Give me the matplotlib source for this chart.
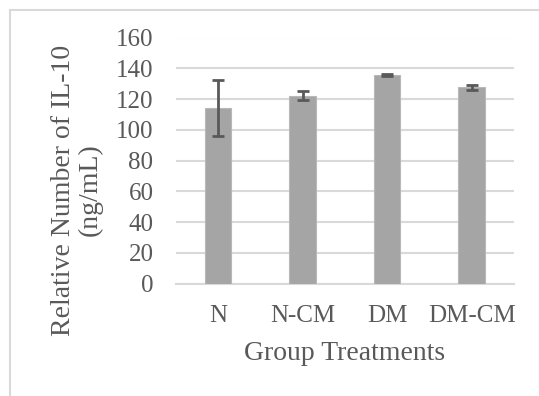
import matplotlib.pyplot as plt
from matplotlib.patches import Rectangle

# data
groups = ["N", "N-CM", "DM", "DM-CM"]
il10 = [114.0, 122.3, 135.6, 127.6]
il10_err = [18.3, 2.9, 0.5, 1.4]

text_color = "#595959"
plt.rcParams["font.family"] = ["Liberation Serif", "DejaVu Serif"]

fig = plt.figure(figsize=(5.39, 3.96), dpi=100)
fig.patch.set_facecolor("white")

# chart area border (cut off at right/bottom like the source)
fig.patches.append(Rectangle((10 / 539, -0.1), 1.2, 1.1 - 9.5 / 396,
                             transform=fig.transFigure, fill=False,
                             edgecolor="#d9d9d9", linewidth=1.5))

ax = fig.add_axes([175.7 / 539, 1 - 283.7 / 396, (514 - 175.7) / 539, (283.7 - 37.5) / 396])

x = range(len(groups))
ax.bar(x, il10, width=0.315, color="#a5a5a5", edgecolor="#b8b8b8", linewidth=0.8, zorder=3)
ax.errorbar(x, il10, yerr=il10_err, fmt="none", ecolor=text_color,
            elinewidth=2, capsize=4.5, capthick=2, zorder=4)

ax.set_xlim(-0.5, len(groups) - 0.5)
ax.set_ylim(0, 160)
ax.set_yticks(range(0, 161, 20))
ax.set_xticks(list(x))
ax.set_xticklabels(groups)
ax.yaxis.grid(True, color="#d9d9d9", linewidth=1.5, zorder=0)
ax.set_axisbelow(True)
for s in ["top", "right", "left"]:
    ax.spines[s].set_visible(False)
ax.spines["bottom"].set_color("#d9d9d9")
ax.spines["bottom"].set_linewidth(1.5)
ax.tick_params(axis="both", length=0, labelsize=18, labelcolor=text_color)
ax.tick_params(axis="y", pad=16)
ax.tick_params(axis="x", pad=15)

fig.text((175.7 + 514) / 2 / 539, 1 - 353 / 396, "Group Treatments",
         ha="center", va="center", fontsize=20, color=text_color)
fig.text(77 / 539, 1 - 190 / 396, "Relative Number of IL-10\n(ng/mL)",
         rotation=90, ha="center", va="center", fontsize=20, color=text_color,
         linespacing=1.05, multialignment="center")

fig.savefig("out.png", dpi=100)
